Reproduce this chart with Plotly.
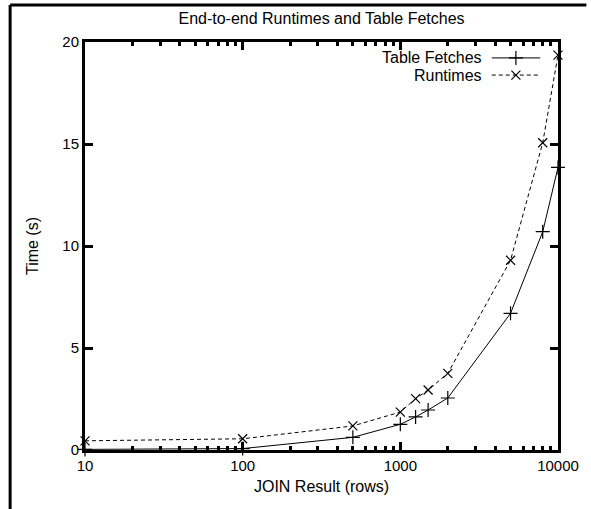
import plotly.graph_objects as go

# Data
rows = [10, 100, 500, 1000, 1250, 1500, 2000, 5000, 8000, 10000]
table_fetches = [0.03, 0.07, 0.62, 1.26, 1.62, 1.96, 2.55, 6.70, 10.70, 13.85]
runtimes = [0.45, 0.55, 1.18, 1.86, 2.52, 2.94, 3.76, 9.30, 15.06, 19.36]
series_names = ["Table Fetches", "Runtimes"]
y_ticks = [0, 5, 10, 15, 20]
x_ticks = [10, 100, 1000, 10000]

FONT = "Liberation Sans, Arial, sans-serif"

fig = go.Figure()
fig.add_trace(go.Scatter(
    x=rows, y=table_fetches, mode="lines+markers", name=series_names[0],
    line=dict(color="black", width=1),
    marker=dict(symbol="cross-thin-open", size=10, color="black",
                line=dict(color="black", width=1.2)),
    showlegend=False, cliponaxis=False))
fig.add_trace(go.Scatter(
    x=rows, y=runtimes, mode="lines+markers", name=series_names[1],
    line=dict(color="black", width=1, dash="4px,3px"),
    marker=dict(symbol="x-thin-open", size=9, color="black",
                line=dict(color="black", width=1.2)),
    showlegend=False, cliponaxis=False))

# gnuplot-style key (text left, sample right) on a hidden overlay axis
key_y = [0.961, 0.919]
for i, (nm, dash, sym, sz) in enumerate([
        (series_names[0], "solid", "cross-thin-open", 10),
        (series_names[1], "4px,3px", "x-thin-open", 9)]):
    fig.add_trace(go.Scatter(
        x=[0.860, 0.9625], y=[key_y[i], key_y[i]], mode="lines",
        line=dict(color="black", width=1, dash=dash),
        xaxis="x2", yaxis="y2", showlegend=False, hoverinfo="skip"))
    fig.add_trace(go.Scatter(
        x=[0.911], y=[key_y[i]], mode="markers",
        marker=dict(symbol=sym, size=sz, color="black",
                    line=dict(color="black", width=1.2)),
        xaxis="x2", yaxis="y2", showlegend=False, hoverinfo="skip"))
    fig.add_annotation(x=0.844, y=key_y[i], xref="paper", yref="paper",
                       text=nm, showarrow=False, xanchor="right", yanchor="middle",
                       font=dict(family=FONT, size=16, color="black"))

axis_common = dict(
    showline=True, linecolor="black", linewidth=3, mirror="allticks",
    ticks="inside", ticklen=8, tickwidth=2.5, tickcolor="black",
    showgrid=False, zeroline=False,
    tickfont=dict(family=FONT, size=15, color="black"),
)

fig.update_layout(
    width=591, height=509,
    margin=dict(l=85, r=26, t=42, b=59),
    paper_bgcolor="white", plot_bgcolor="white",
    font=dict(family=FONT, color="black"),
    title=dict(text="End-to-end Runtimes and Table Fetches", xref="paper", x=0.5,
               xanchor="center", yref="container", y=0.963, yanchor="middle",
               font=dict(family=FONT, size=16, color="black")),
    xaxis=dict(type="log", range=[1, 4], tickvals=x_ticks,
               ticktext=[str(v) for v in x_ticks],
               minor=dict(ticks="inside", ticklen=4, tickwidth=2.5, tickcolor="black",
                          showgrid=False, dtick="D1"),
               title=dict(text="JOIN Result (rows)", standoff=8,
                          font=dict(family=FONT, size=16, color="black")),
               **axis_common),
    yaxis=dict(range=[0, 20], tickvals=y_ticks,
               title=dict(text="Time (s)", standoff=20,
                          font=dict(family=FONT, size=16, color="black")),
               **axis_common),
    xaxis2=dict(overlaying="x", range=[0, 1], visible=False, fixedrange=True),
    yaxis2=dict(overlaying="y", range=[0, 1], visible=False, fixedrange=True),
)

# outer frame (left and top edges)
fig.add_shape(type="line", xref="paper", yref="paper",
              x0=-0.1583, y0=-0.16, x1=-0.1583, y1=1.0907,
              line=dict(color="black", width=3))
fig.add_shape(type="line", xref="paper", yref="paper",
              x0=-0.1583, y0=1.0907, x1=1.06, y1=1.0907,
              line=dict(color="black", width=3))

fig.write_html("out.html", config={"displayModeBar": False},
               post_script="document.body.style.margin='0';")
